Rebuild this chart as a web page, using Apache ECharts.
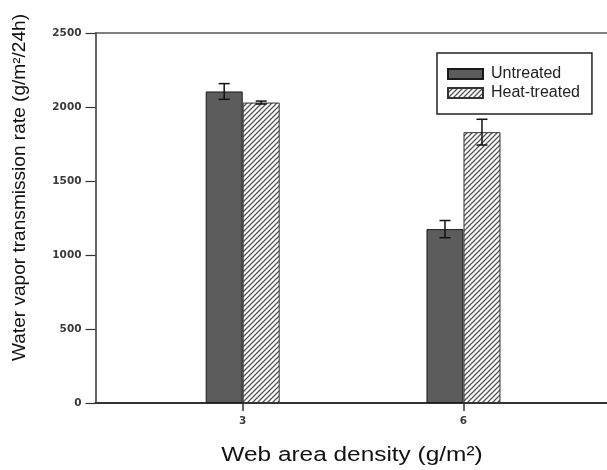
<!DOCTYPE html>
<html>
<head>
<meta charset="utf-8">
<script src="https://cdn.jsdelivr.net/npm/echarts@6/dist/echarts.min.js"></script>
<style>
html,body{margin:0;padding:0;background:#fff;}
#chart{width:607px;height:470px;}
</style>
</head>
<body>
<div id="chart"></div>
<script>
// Data
var categories = [3, 6];
var seriesNames = ['Untreated', 'Heat-treated'];
var untreated = [2105, 1175];
var untreatedErr = [53, 58];
var heatTreated = [2030, 1830];
var heatTreatedErr = [10, 87];
var yTicks = [0, 500, 1000, 1500, 2000, 2500];
var xTitle = 'Web area density (g/m²)';
var yTitle = 'Water vapor transmission rate (g/m²/24h)';

// hatch pattern
function makeHatch() {
  var s = 5;
  var c = document.createElement('canvas');
  c.width = s; c.height = s;
  var ctx = c.getContext('2d');
  ctx.fillStyle = '#ffffff';
  ctx.fillRect(0, 0, s, s);
  ctx.strokeStyle = '#555555';
  ctx.lineWidth = 1.3;
  ctx.beginPath();
  ctx.moveTo(-1, s + 1); ctx.lineTo(s + 1, -1);
  ctx.moveTo(-1, 1); ctx.lineTo(1, -1);
  ctx.moveTo(s - 1, s + 1); ctx.lineTo(s + 1, s - 1);
  ctx.stroke();
  return c;
}
var hatch = makeHatch();

var chart = echarts.init(document.getElementById('chart'), null, {renderer: 'canvas'});

function pairs(xs, ys) { return xs.map(function (x, i) { return [x, ys[i]]; }); }

function errSeries(vals, errs, offset) {
  return {
    type: 'custom',
    silent: true,
    z: 10,
    data: categories.map(function (c, i) { return [c, vals[i] - errs[i], vals[i] + errs[i]]; }),
    renderItem: function (params, api) {
      var lo = api.coord([api.value(0), api.value(1)]);
      var hi = api.coord([api.value(0), api.value(2)]);
      var x = lo[0] + offset;
      var hw = 5.5;
      var st = {stroke: '#111', lineWidth: 1.5};
      return {
        type: 'group',
        children: [
          {type: 'line', shape: {x1: x, y1: lo[1], x2: x, y2: hi[1]}, style: st},
          {type: 'line', shape: {x1: x - hw, y1: lo[1], x2: x + hw, y2: lo[1]}, style: st},
          {type: 'line', shape: {x1: x - hw, y1: hi[1], x2: x + hw, y2: hi[1]}, style: st}
        ]
      };
    }
  };
}

var barW = 37;
var tickFont = {fontSize: 10.5, fontWeight: 'bold', color: '#3a3a3a', fontFamily: 'DejaVu Sans'};
var option = {
  animation: false,
  backgroundColor: '#ffffff',
  textStyle: {fontFamily: 'Liberation Sans, Arial, sans-serif'},
  grid: {left: 95.5, right: 0, top: 33, bottom: 67, show: false, containLabel: false},
  legend: {
    left: 437, top: 53,
    orient: 'vertical',
    data: seriesNames.map(function (n) { return {name: n, icon: 'rect'}; }),
    itemWidth: 35, itemHeight: 10, itemGap: 3,
    borderColor: '#222', borderWidth: 1.5,
    padding: [13, 12, 13, 10],
    textStyle: {fontSize: 16, color: '#222', fontFamily: 'Liberation Sans, Arial, sans-serif', padding: [0, 0, 0, 3]}
  },
  graphic: [
    {
      type: 'text', x: 352, y: 455, scaleX: 1.22, silent: true,
      style: {text: xTitle, fontSize: 20, fill: '#111', align: 'center', verticalAlign: 'middle', fontFamily: 'Liberation Sans, Arial, sans-serif'}
    },
    {
      type: 'text', x: 20.5, y: 187.5, rotation: Math.PI / 2, scaleX: 1.06, silent: true,
      style: {text: yTitle, fontSize: 18, fill: '#111', align: 'center', verticalAlign: 'middle', fontFamily: 'Liberation Sans, Arial, sans-serif'}
    }
  ],
  xAxis: [{
    type: 'value', min: 1, max: 7.95,
    axisLine: {show: true, lineStyle: {color: '#333', width: 2}},
    axisTick: {show: true, customValues: categories, length: 8, lineStyle: {color: '#333', width: 1.5}},
    axisLabel: Object.assign({show: true, customValues: categories, margin: 13}, tickFont),
    splitLine: {show: false}
  }, {
    type: 'value', min: 1, max: 7.95, position: 'top',
    axisLine: {show: true, lineStyle: {color: '#555', width: 1.5}},
    axisTick: {show: false}, axisLabel: {show: false}, splitLine: {show: false}
  }],
  yAxis: {
    type: 'value', min: 0, max: 2500, interval: 500,
    axisLine: {show: true, lineStyle: {color: '#333', width: 1.5}},
    axisTick: {show: true, length: 10, lineStyle: {color: '#333', width: 1.2}},
    axisLabel: Object.assign({margin: 14, formatter: function (v) { return String(v); }}, tickFont),
    splitLine: {show: false}
  },
  series: [
    {
      name: seriesNames[0], type: 'bar', barWidth: barW, barGap: '0%',
      data: pairs(categories, untreated),
      itemStyle: {color: '#5c5c5c', borderColor: '#1a1a1a', borderWidth: 1}
    },
    {
      name: seriesNames[1], type: 'bar', barWidth: barW, barGap: '0%',
      data: pairs(categories, heatTreated),
      itemStyle: {color: {image: hatch, repeat: 'repeat'}, borderColor: '#333', borderWidth: 1}
    },
    errSeries(untreated, untreatedErr, -barW / 2),
    errSeries(heatTreated, heatTreatedErr, barW / 2)
  ]
};
chart.setOption(option);
</script>
</body>
</html>
